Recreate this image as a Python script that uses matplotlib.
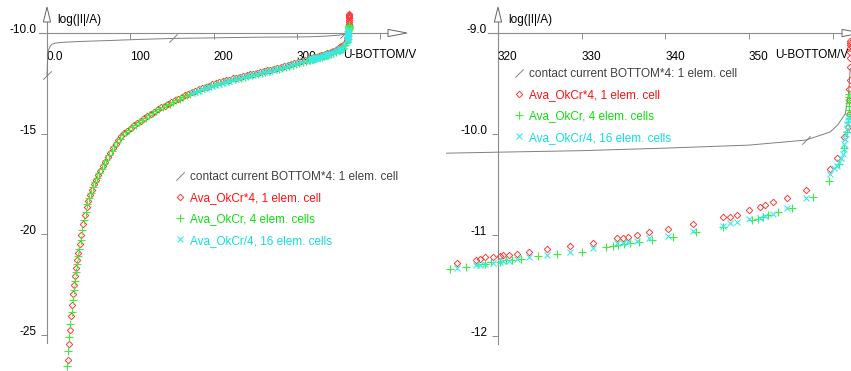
import matplotlib
matplotlib.use('Agg')
import matplotlib.pyplot as plt
import matplotlib.transforms as mtransforms
from matplotlib.path import Path
from matplotlib.patches import Polygon
from matplotlib.lines import Line2D

plt.rcParams['font.family'] = ['Liberation Sans', 'DejaVu Sans']

# ---------------- data (U-BOTTOM / V , log(|I|/A)) ----------------
contact_pts = [(0.0, -12.10), (0.4, -11.60), (0.9, -11.10), (1.8, -10.85), (3.5, -10.68),
               (6.0, -10.56), (10.0, -10.50), (20.0, -10.46), (40.0, -10.42), (70.0, -10.38),
               (110.0, -10.32), (151.0, -10.27), (200.0, -10.24), (250.0, -10.21), (300.0, -10.195),
               (313.8, -10.19), (320.0, -10.18), (330.0, -10.165), (340.0, -10.14), (350.0, -10.11),
               (356.8, -10.06), (359.7, -9.98), (360.6, -9.91), (361.5, -9.80), (361.9, -9.60),
               (362.1, -9.35)]
contact_marks = [0.0, 151.0, 356.8]

red_pts = [(25.0, -26.22), (26.4, -25.44), (27.6, -24.74), (28.8, -24.08), (30.3, -23.52),
           (31.5, -22.99), (32.8, -22.51), (34.0, -22.05), (35.0, -21.66), (36.1, -21.26),
           (37.6, -20.91), (39.4, -20.46), (41.3, -20.02), (43.4, -19.50), (45.5, -19.05),
           (47.6, -18.64), (49.7, -18.33), (51.8, -18.05), (54.0, -17.78), (56.3, -17.52),
           (58.8, -17.28), (61.4, -17.06), (64.1, -16.84), (66.9, -16.62), (69.8, -16.40),
           (72.8, -16.17), (75.9, -15.94), (79.1, -15.72), (82.4, -15.50), (85.8, -15.31),
           (89.3, -15.14), (92.9, -14.99), (96.6, -14.85), (100.4, -14.72), (104.3, -14.59),
           (108.3, -14.47), (112.4, -14.35), (116.5, -14.23), (120.6, -14.12), (124.7, -14.01),
           (128.8, -13.90), (132.9, -13.80), (137.0, -13.70), (141.1, -13.61), (145.2, -13.52),
           (149.3, -13.43), (153.4, -13.34), (157.5, -13.26), (161.6, -13.18), (165.7, -13.10),
           (169.8, -13.02), (173.9, -12.94), (178.0, -12.87), (182.1, -12.80), (186.2, -12.73),
           (190.3, -12.67), (194.4, -12.61), (198.5, -12.55), (202.6, -12.50), (206.7, -12.45),
           (210.8, -12.40), (214.9, -12.35), (219.0, -12.31), (223.1, -12.26), (227.2, -12.22),
           (231.3, -12.18), (235.4, -12.14), (239.5, -12.10), (243.6, -12.06), (247.7, -12.02),
           (251.8, -11.98), (255.9, -11.94), (260.0, -11.90), (264.1, -11.86), (268.2, -11.82),
           (272.3, -11.77), (276.4, -11.73), (280.5, -11.68), (284.6, -11.63), (288.7, -11.58),
           (292.8, -11.53), (296.9, -11.48), (301.0, -11.43), (305.1, -11.39), (309.2, -11.34),
           (315.1, -11.28), (317.4, -11.25), (317.8, -11.24), (318.4, -11.22), (319.4, -11.22),
           (320.2, -11.21), (320.6, -11.20), (321.3, -11.20), (322.3, -11.19), (323.7, -11.17),
           (325.9, -11.14), (328.6, -11.11), (331.4, -11.08), (334.2, -11.03), (334.9, -11.03),
           (335.5, -11.02), (336.6, -11.00), (338.0, -10.97), (340.3, -10.94), (343.3, -10.89),
           (346.9, -10.82), (347.7, -10.82), (348.6, -10.80), (350.0, -10.75), (351.3, -10.72),
           (351.9, -10.70), (352.9, -10.67), (354.5, -10.63), (356.8, -10.55), (359.7, -10.35),
           (360.5, -10.24), (361.4, -10.03), (361.8, -9.93), (361.9, -9.80), (362.0, -9.66),
           (362.0, -9.55), (362.05, -9.47), (362.05, -9.34), (362.1, -9.25), (362.1, -9.19),
           (362.1, -9.15), (362.1, -9.12), (362.1, -9.10), (362.1, -9.08)]

green_pts = [(24.5, -26.52), (25.6, -25.78), (26.9, -25.10), (28.2, -24.44), (29.5, -23.84),
             (30.9, -23.27), (32.2, -22.77), (33.4, -22.30), (34.5, -21.88), (35.6, -21.48),
             (36.9, -21.10), (38.5, -20.71), (40.3, -20.27), (42.3, -19.78), (44.4, -19.30),
             (46.5, -18.87), (48.6, -18.51), (50.7, -18.21), (52.9, -17.94), (55.1, -17.67),
             (57.5, -17.42), (60.1, -17.19), (62.7, -16.97), (65.5, -16.75), (68.3, -16.53),
             (71.3, -16.30), (74.3, -16.08), (77.5, -15.85), (80.7, -15.63), (84.1, -15.43),
             (87.5, -15.25), (91.1, -15.09), (94.7, -14.94), (98.5, -14.80), (102.3, -14.67),
             (106.3, -14.55), (110.3, -14.43), (114.4, -14.31), (118.5, -14.20), (122.6, -14.09),
             (126.7, -13.98), (130.8, -13.88), (134.9, -13.78), (139.0, -13.69), (143.1, -13.60),
             (147.2, -13.51), (151.3, -13.42), (155.4, -13.34), (159.5, -13.26), (163.6, -13.18),
             (167.7, -13.10), (171.8, -13.02), (175.9, -12.95), (180.0, -12.88), (184.1, -12.81),
             (188.2, -12.75), (192.3, -12.69), (196.4, -12.63), (200.5, -12.58), (204.6, -12.53),
             (208.7, -12.48), (212.8, -12.43), (216.9, -12.39), (221.0, -12.34), (225.1, -12.30),
             (229.2, -12.26), (233.3, -12.22), (237.4, -12.18), (241.5, -12.14), (245.6, -12.10),
             (249.7, -12.06), (253.8, -12.02), (257.9, -11.98), (262.0, -11.94), (266.1, -11.90),
             (270.2, -11.86), (274.3, -11.81), (278.4, -11.77), (282.5, -11.72), (286.6, -11.67),
             (290.7, -11.62), (294.8, -11.57), (298.9, -11.52), (303.0, -11.47), (307.1, -11.43),
             (311.0, -11.38), (314.3, -11.34), (316.2, -11.32), (317.6, -11.29), (318.4, -11.29),
             (319.2, -11.27), (320.2, -11.27), (321.0, -11.25), (321.7, -11.25), (322.8, -11.24),
             (324.8, -11.21), (327.1, -11.19), (330.0, -11.17), (332.9, -11.12), (333.7, -11.11),
             (334.4, -11.10), (335.1, -11.09), (335.8, -11.08), (336.9, -11.07), (338.4, -11.05),
             (340.9, -11.02), (343.7, -10.97), (346.9, -10.92), (350.3, -10.85), (351.1, -10.84),
             (351.7, -10.82), (352.3, -10.80), (353.5, -10.77), (355.1, -10.73), (357.7, -10.62),
             (359.6, -10.47), (360.8, -10.30), (361.4, -10.14), (361.7, -9.98), (361.8, -9.88),
             (361.9, -9.80), (361.95, -9.76), (362.0, -9.72), (362.0, -9.69), (362.0, -9.66),
             (362.0, -9.63), (362.0, -9.60)]

cyan_pts = [(173.9, -13.00), (178.0, -12.93), (182.1, -12.86), (186.2, -12.79), (190.3, -12.73),
            (194.4, -12.67), (198.5, -12.61), (202.6, -12.56), (206.7, -12.51), (210.8, -12.46),
            (214.9, -12.41), (219.0, -12.37), (223.1, -12.32), (227.2, -12.28), (231.3, -12.24),
            (235.4, -12.20), (239.5, -12.16), (243.6, -12.12), (247.7, -12.08), (251.8, -12.04),
            (255.9, -12.00), (260.0, -11.96), (264.1, -11.92), (268.2, -11.88), (272.3, -11.83),
            (276.4, -11.79), (280.5, -11.74), (284.6, -11.69), (288.7, -11.64), (292.8, -11.59),
            (296.9, -11.54), (301.0, -11.49), (305.1, -11.45), (309.2, -11.40), (315.1, -11.33),
            (317.4, -11.30), (317.8, -11.30), (318.4, -11.29), (319.4, -11.28), (320.2, -11.27),
            (320.6, -11.26), (321.3, -11.26), (322.3, -11.24), (323.7, -11.22), (325.9, -11.20),
            (328.6, -11.17), (331.4, -11.13), (334.2, -11.08), (334.9, -11.08), (335.5, -11.07),
            (336.6, -11.06), (338.0, -11.03), (340.3, -11.01), (343.3, -10.96), (346.9, -10.91),
            (347.7, -10.88), (348.6, -10.87), (350.0, -10.84), (351.3, -10.83), (351.9, -10.81),
            (352.9, -10.79), (354.5, -10.73), (356.8, -10.63), (359.7, -10.40), (360.2, -10.34),
            (360.5, -10.32), (360.8, -10.28), (361.0, -10.24), (361.2, -10.20), (361.3, -10.15),
            (361.4, -10.10), (361.5, -10.05), (361.6, -10.00), (361.7, -9.95), (361.75, -9.90),
            (361.8, -9.86), (361.85, -9.83)]

series_labels = ['contact current BOTTOM*4: 1 elem. cell', 'Ava_OkCr*4, 1 elem. cell',
                 'Ava_OkCr, 4 elem. cells', 'Ava_OkCr/4, 16 elem. cells']

left_xticks = [0, 100, 200, 300, 400]
left_xticklabels = ['0.0', '100', '200', '300', '']
left_yticks = [-10, -15, -20, -25]
left_yticklabels = ['-10.0', '-15', '-20', '-25']
right_xticks = [320, 330, 340, 350, 360]
right_xticklabels = ['320', '330', '340', '350', '']
right_yticks = [-9, -10, -11, -12]
right_yticklabels = ['-9.0', '-10.0', '-11', '-12']

xlabel = 'U-BOTTOM/V'
ylabel = 'log(|I|/A)'

# ---------------- styles ----------------
AX_C = '#8c8c8c'
C_CONTACT = '#808080'
C_RED_M, C_GREEN_M, C_CYAN_M = '#ff3a3a', '#3aee3a', '#3aeaea'
TXT_COLORS = ['#404040', '#ff1010', '#10dd10', '#10dede']
FS = 8.5
slash = Path([(-0.5, -0.5), (0.5, 0.5)], [Path.MOVETO, Path.LINETO])

W, H = 851, 371
fig = plt.figure(figsize=(W / 100, H / 100), dpi=100, facecolor='white')


def add_px_axes(x0, x1):
    return fig.add_axes([x0 / W, 0, (x1 - x0) / W, 1])


def unzip(pts):
    return [p[0] for p in pts], [p[1] for p in pts]


cv, cy = unzip(contact_pts)
rv, ry = unzip(red_pts)
gv, gy = unzip(green_pts)
yv, yy = unzip(cyan_pts)
mark_idx = [cv.index(v) for v in contact_marks]


def draw_panel(ax, xo, yo, xspine, yspine, xticks, xtl, yticks, ytl, xlab_offset):
    ax.plot(cv, cy, color=C_CONTACT, lw=0.7, marker=slash, ms=6, mew=0.7,
            markevery=mark_idx, zorder=2)
    ax.plot(rv, ry, ls='none', marker='D', ms=3.3, mfc='none', mec=C_RED_M, mew=0.7, zorder=3)
    ax.plot(gv, gy, ls='none', marker='+', ms=5.5, mec=C_GREEN_M, mew=0.8, zorder=4)
    ax.plot(yv, yy, ls='none', marker='x', ms=4.3, mec=C_CYAN_M, mew=0.8, zorder=5)

    for s in ('top', 'right'):
        ax.spines[s].set_visible(False)
    ax.spines['bottom'].set_position(('data', yo))
    ax.spines['left'].set_position(('data', xo))
    ax.spines['bottom'].set_bounds(*xspine)
    ax.spines['left'].set_bounds(*yspine)
    for s in ('bottom', 'left'):
        ax.spines[s].set_color(AX_C)
        ax.spines[s].set_linewidth(0.8)
        ax.spines[s].set_zorder(1)
    ax.set_xticks(xticks, xtl)
    ax.set_yticks(yticks, ytl)
    ax.tick_params(axis='x', direction='out', length=4, width=0.7, color=AX_C,
                   pad=8.6, labelsize=FS, labelcolor='black')
    ax.tick_params(axis='y', direction='out', length=4, width=0.7, color=AX_C,
                   pad=3.8, labelsize=FS, labelcolor='black')
    for t in ax.get_xticklabels():
        t.set_ha('left')
    for t in ax.get_yticklabels():
        t.set_va('baseline')
    ax.set_facecolor('none')

    # arrowheads (open triangles), sizes in pixels
    tx = mtransforms.IdentityTransform() + mtransforms.ScaledTranslation(xspine[1], yo, ax.transData)
    ax.add_patch(Polygon([(0, 3.6), (19, 0), (0, -3.6)], closed=True, fc='white', ec='#666666',
                         lw=0.7, transform=tx, clip_on=False, zorder=6))
    ty = mtransforms.IdentityTransform() + mtransforms.ScaledTranslation(xo, yspine[1], ax.transData)
    ax.add_patch(Polygon([(-3.6, 0), (0, 15), (3.6, 0)], closed=True, fc='white', ec='#666666',
                         lw=0.7, transform=ty, clip_on=False, zorder=6))

    # axis titles
    ax.text(xo, yo, ylabel, fontsize=FS, ha='left', va='center', color='black',
            transform=mtransforms.offset_copy(ax.transData, fig=fig, x=10, y=12.5, units='dots'),
            clip_on=False)
    ax.text(xlab_offset, yo, xlabel, fontsize=FS, ha='left', va='top', color='black',
            transform=mtransforms.offset_copy(ax.transData, fig=fig, x=0, y=-16.5, units='dots'),
            clip_on=False)


# ---- left panel ----
ax1 = add_px_axes(0, 430)
L_X0, L_XS, L_Y0, L_YS = 47, 0.8333, 33, 20.13
ax1.set_xlim((0 - L_X0) / L_XS, (430 - L_X0) / L_XS)
ax1.set_ylim(-10 - (H - L_Y0) / L_YS, -10 + L_Y0 / L_YS)
draw_panel(ax1, 0, -10, (-8 / L_XS, (388 - L_X0) / L_XS), (-10 - (343 - L_Y0) / L_YS, -10 + 11 / L_YS),
           left_xticks, left_xticklabels, left_yticks, left_yticklabels, (343 - L_X0) / L_XS)

# ---- right panel ----
ax2 = add_px_axes(446, W)
R_X0, R_XS, R_Y0, R_YS = 498, 8.367, 33, 101.0
ax2.set_xlim(320 - (R_X0 - 446) / R_XS, 320 + (W - R_X0) / R_XS)
ax2.set_ylim(-9 - (H - R_Y0) / R_YS, -9 + R_Y0 / R_YS)
draw_panel(ax2, 320, -9, (320 - 10 / R_XS, 320 + (842 - R_X0) / R_XS), (-9 - (344 - R_Y0) / R_YS, -9 + 11 / R_YS),
           right_xticks, right_xticklabels, right_yticks, right_yticklabels, 320 + (775 - R_X0) / R_XS)

# ---- legends ----
handles = [Line2D([], [], ls='none', marker=slash, ms=6, mew=0.7, color=C_CONTACT),
           Line2D([], [], ls='none', marker='D', ms=3.3, mfc='none', mec=C_RED_M, mew=0.7),
           Line2D([], [], ls='none', marker='+', ms=5.5, mec=C_GREEN_M, mew=0.8),
           Line2D([], [], ls='none', marker='x', ms=4.3, mec=C_CYAN_M, mew=0.8)]
for ax, (lx, ly) in ((ax1, (174, 171)), (ax2, (513, 68))):
    ax.legend(handles, series_labels, loc='upper left', bbox_to_anchor=(lx / W, 1 - ly / H),
              bbox_transform=fig.transFigure, frameon=False, fontsize=FS, labelcolor=TXT_COLORS,
              handlelength=1.0, handletextpad=0.35, labelspacing=0.78, borderpad=0, borderaxespad=0)

fig.savefig('out.png', dpi=100, facecolor='white')
